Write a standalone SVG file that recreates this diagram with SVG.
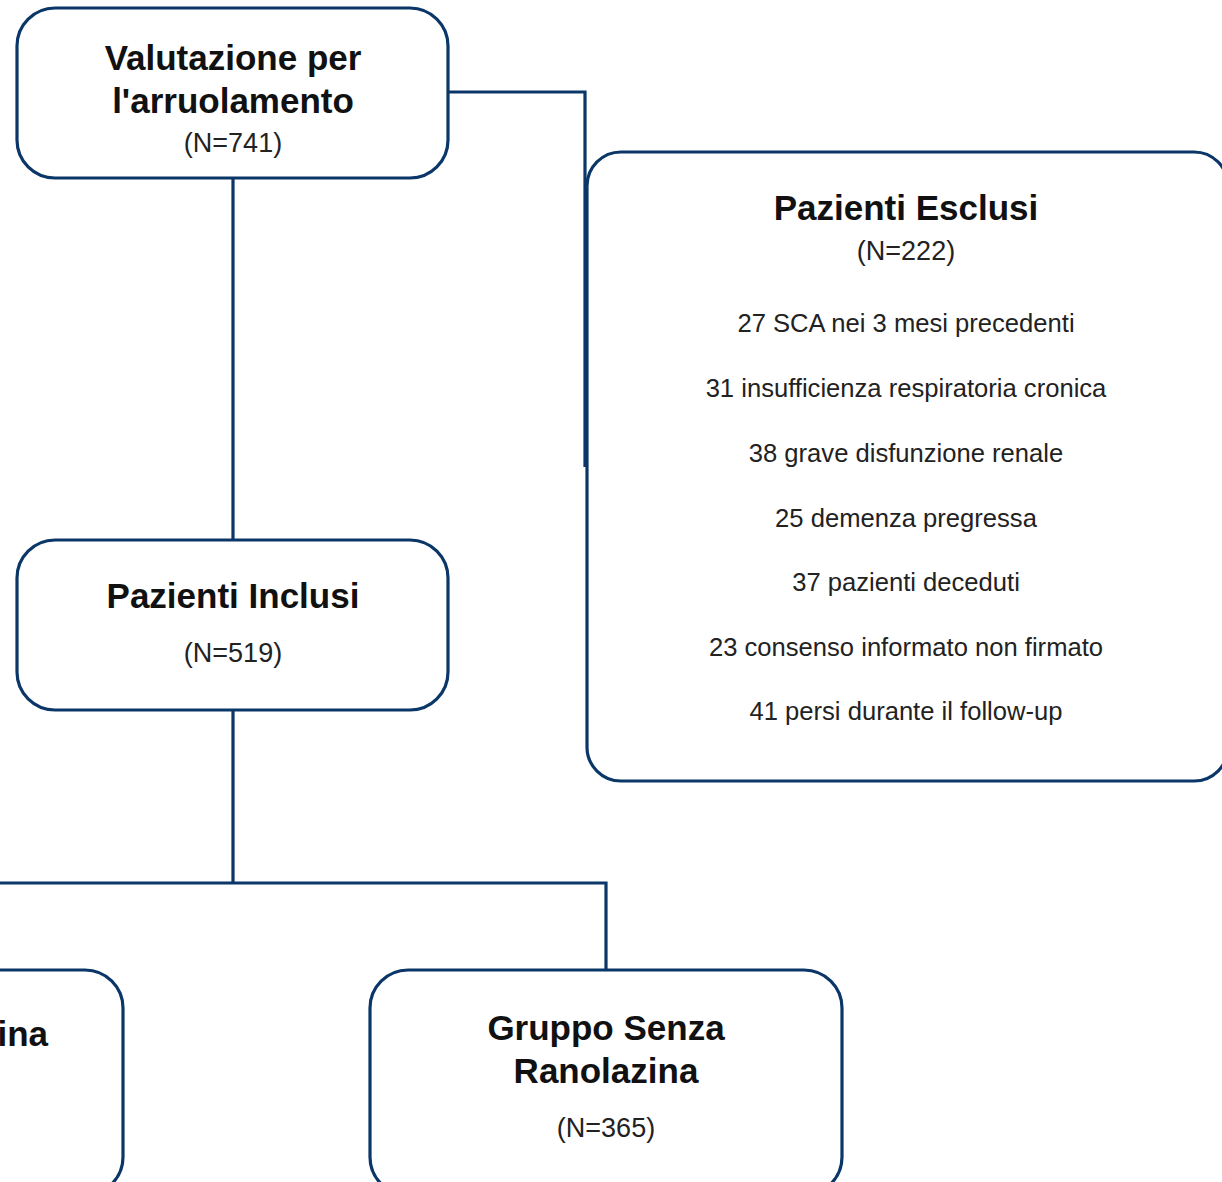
<svg xmlns="http://www.w3.org/2000/svg" width="1222" height="1182" viewBox="0 0 1222 1182">
<style>
.box{fill:#fff;stroke:#0b3768;stroke-width:3.2}
.con{fill:none;stroke:#0b3768;stroke-width:3.2}
.b{font-family:"Liberation Sans",Arial,sans-serif;font-weight:bold;font-size:35px;fill:#111;text-anchor:middle}
.n{font-family:"Liberation Sans",Arial,sans-serif;font-size:27px;fill:#222;text-anchor:middle}
.l{font-family:"Liberation Sans",Arial,sans-serif;font-size:25.6px;fill:#222;text-anchor:middle}
</style>
<rect width="1222" height="1182" fill="#fff"/>
<g id="connectors">
<polyline class="con" points="448,92 585,92 585,467"/>
<line class="con" x1="233" y1="178" x2="233" y2="540"/>
<line class="con" x1="233" y1="710" x2="233" y2="883"/>
<polyline class="con" points="-10,883 606,883 606,970"/>
</g>
<g id="valutazione">
<rect class="box" x="17" y="8" width="431" height="170" rx="38"/>
<text class="b" x="233" y="70">Valutazione per</text>
<text class="b" x="233" y="113">l'arruolamento</text>
<text class="n" x="233" y="152">(N=741)</text>
</g>
<g id="esclusi">
<rect class="box" x="587" y="152" width="641" height="629" rx="34"/>
<text class="b" x="906" y="220">Pazienti Esclusi</text>
<text class="n" x="906" y="260">(N=222)</text>
<text class="l" x="906" y="332">27 SCA nei 3 mesi precedenti</text>
<text class="l" x="906" y="397">31 insufficienza respiratoria cronica</text>
<text class="l" x="906" y="462">38 grave disfunzione renale</text>
<text class="l" x="906" y="527">25 demenza pregressa</text>
<text class="l" x="906" y="591">37 pazienti deceduti</text>
<text class="l" x="906" y="656">23 consenso informato non firmato</text>
<text class="l" x="906" y="720">41 persi durante il follow-up</text>
</g>
<g id="inclusi">
<rect class="box" x="17" y="540" width="431" height="170" rx="38"/>
<text class="b" x="233" y="608">Pazienti Inclusi</text>
<text class="n" x="233" y="662">(N=519)</text>
</g>
<g id="gruppo-con">
<rect class="box" x="-400" y="970" width="523" height="225" rx="38"/>
<text class="b" x="48" y="1046" style="text-anchor:end">ina</text>
</g>
<g id="gruppo-senza">
<rect class="box" x="370" y="970" width="472" height="225" rx="38"/>
<text class="b" x="606" y="1040">Gruppo Senza</text>
<text class="b" x="606" y="1083">Ranolazina</text>
<text class="n" x="606" y="1137">(N=365)</text>
</g>
</svg>
